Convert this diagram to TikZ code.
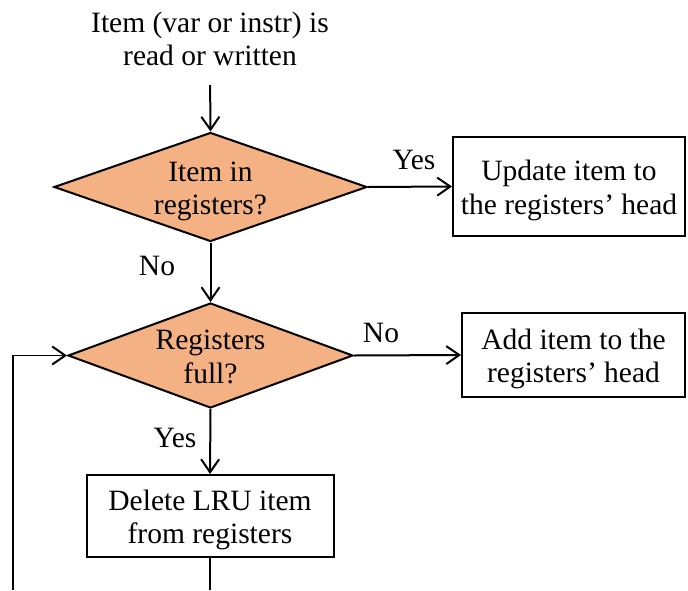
\documentclass[tikz,border=0pt]{standalone}
\usepackage{fontspec}
\setmainfont{Liberation Serif}
\usetikzlibrary{shapes.geometric,arrows.meta}
\definecolor{dfill}{HTML}{F4B183}
\newcommand{\tophs}{\rule{0pt}{28.6pt}}
\newcommand{\botds}{\rule[-7pt]{0pt}{7pt}}
\begin{document}
\begin{tikzpicture}[x=1pt,y=-1pt,
  font=\fontsize{29.5}{33.5}\selectfont,
  dec/.style={diamond, draw, line width=2pt, fill=dfill, inner sep=-4pt, align=center},
  box/.style={rectangle, draw, line width=2pt, inner sep=0pt, align=center},
  lbl/.style={inner sep=0pt, align=center},
  arr/.style={line width=2pt, -{Straight Barb[length=13pt,width=18pt,line width=2pt 0]}},
  thinline/.style={line width=1.2pt},
  thinarr/.style={line width=1.2pt, -{Straight Barb[length=13pt,width=18pt,line width=2pt 0]}},
]
\useasboundingbox (0,0) rectangle (688,590);
\node[lbl] (start) at (210,38.4) {\tophs Item (var or instr) is\\read or written\botds};
\node[dec, aspect=2.87, minimum width=313pt, minimum height=109pt] (d1) at (210.5,187) {\tophs Item in\\registers?\botds};
\node[box, minimum width=232pt, minimum height=99pt] (b1) at (569,186.5) {\tophs Update item to\\the registers’ head\botds};
\node[dec, aspect=2.71, minimum width=285pt, minimum height=105pt] (d2) at (210.5,355.5) {\tophs Registers\\full?\botds};
\node[box, minimum width=223pt, minimum height=84pt] (b2) at (573.5,355) {\tophs Add item to the\\registers’ head\botds};
\node[box, minimum width=247pt, minimum height=82pt] (b3) at (210,516) {\tophs Delete LRU item\\from registers\botds};
\node[lbl] (yes1) at (414,160) {Yes};
\node[lbl] (no1) at (157,266) {No};
\node[lbl] (no2) at (381,333) {No};
\node[lbl] (yes2) at (175,438) {Yes};
\coordinate (c1) at (210,590);
\coordinate (c2) at (13,590);
\draw[arr, shorten <=12pt] (start.south) -- (d1.north);
\draw[arr] (d1.east) -- (b1.west);
\draw[arr] (d1.south) -- (d2.north);
\draw[arr] (d2.east) -- (b2.west);
\draw[arr] (d2.south) -- (b3.north);
\draw[thinline] (b3.south) -- (c1);
\draw[thinarr] (c2) |- (d2.west);
\end{tikzpicture}
\end{document}
